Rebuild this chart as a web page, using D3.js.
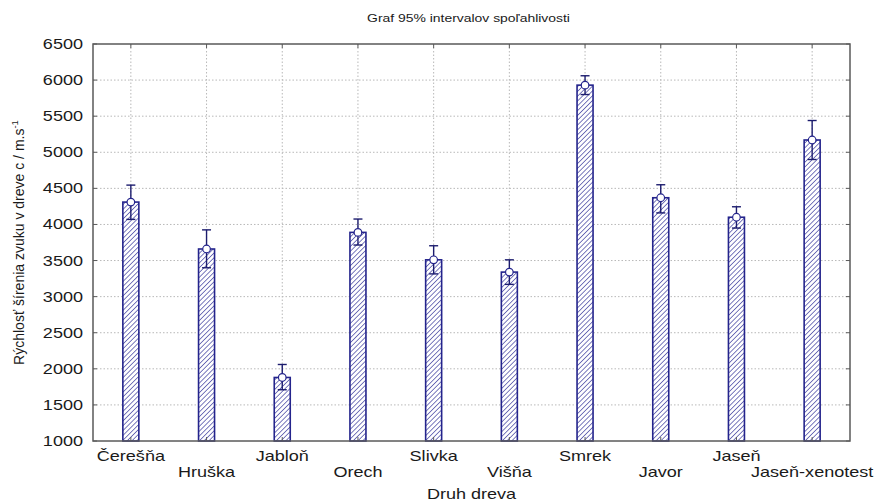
<!DOCTYPE html>
<html>
<head>
<meta charset="utf-8">
<script src="https://cdn.jsdelivr.net/npm/d3@7/dist/d3.min.js"></script>
<style>
  html, body { margin: 0; padding: 0; background: #fff; }
  svg { display: block; font-family: "Liberation Sans", Arial, sans-serif; }
</style>
</head>
<body>
<svg id="chart" width="876" height="502"></svg>
<script>
// Druh dreva a rýchlosť šírenia zvuku (priemer s 95% intervalom spoľahlivosti)
const categories = ["Čerešňa", "Hruška", "Jabloň", "Orech", "Slivka", "Višňa", "Smrek", "Javor", "Jaseň", "Jaseň-xenotest"];
const means = [4310, 3660, 1880, 3890, 3510, 3340, 5930, 4370, 4100, 5170];
const lower = [4070, 3400, 1710, 3715, 3315, 3170, 5800, 4160, 3950, 4900];
const upper = [4545, 3925, 2060, 4075, 3705, 3510, 6060, 4550, 4245, 5440];
const yTicks = [1000, 1500, 2000, 2500, 3000, 3500, 4000, 4500, 5000, 5500, 6000, 6500];

const title = "Graf 95% intervalov spoľahlivosti";
const xTitle = "Druh dreva";

const W = 876, H = 502;
const m = { left: 93, right: 850, top: 44, bottom: 441 };
const stretch = 1.29; // horizontally widened lettering

const svg = d3.select("#chart");

const x = d3.scalePoint().domain(categories).range([m.left, m.right]).padding(0.5);
const y = d3.scaleLinear().domain([1000, 6500]).range([m.bottom, m.top]);

const navy = "#24248c";
const dark = "#1c1c6e";

// hatch pattern for bars
const defs = svg.append("defs");
const pat = defs.append("pattern")
  .attr("id", "hatch")
  .attr("patternUnits", "userSpaceOnUse")
  .attr("width", 3.4).attr("height", 3.4)
  .attr("patternTransform", "rotate(45)");
pat.append("rect").attr("width", 3.4).attr("height", 3.4).attr("fill", "#fff");
pat.append("line").attr("x1", 0).attr("y1", 0).attr("x2", 0).attr("y2", 3.4)
  .attr("stroke", "#35359a").attr("stroke-width", 1.3);

// grid
const grid = svg.append("g").attr("stroke", "#b8b8b8").attr("stroke-width", 1).attr("stroke-dasharray", "1.5,2");
grid.selectAll("line.h").data(yTicks.slice(1, -1)).join("line")
  .attr("x1", m.left).attr("x2", m.right)
  .attr("y1", d => y(d)).attr("y2", d => y(d));
grid.selectAll("line.v").data(categories).join("line")
  .attr("x1", d => x(d)).attr("x2", d => x(d))
  .attr("y1", m.top).attr("y2", m.bottom);

// bars
const bw = 16;
svg.append("g").selectAll("rect").data(categories).join("rect")
  .attr("x", d => x(d) - bw / 2)
  .attr("width", bw)
  .attr("y", (d, i) => y(means[i]))
  .attr("height", (d, i) => y(1000) - y(means[i]))
  .attr("fill", "url(#hatch)")
  .attr("stroke", navy)
  .attr("stroke-width", 1.6);

// error bars
const eb = svg.append("g").attr("stroke", dark).attr("stroke-width", 1.4).attr("fill", "none");
categories.forEach((c, i) => {
  const cx = x(c);
  eb.append("line").attr("x1", cx).attr("x2", cx).attr("y1", y(lower[i])).attr("y2", y(upper[i]));
  eb.append("line").attr("x1", cx - 4.5).attr("x2", cx + 4.5).attr("y1", y(upper[i])).attr("y2", y(upper[i]));
  eb.append("line").attr("x1", cx - 4.5).attr("x2", cx + 4.5).attr("y1", y(lower[i])).attr("y2", y(lower[i]));
  eb.append("circle").attr("cx", cx).attr("cy", y(means[i])).attr("r", 3.8)
    .attr("fill", "#fff").attr("stroke", navy).attr("stroke-width", 1.2);
});

// frame and inward ticks
const frame = svg.append("g").attr("stroke", "#5a5a5a").attr("fill", "none");
frame.append("rect").attr("x", m.left).attr("y", m.top)
  .attr("width", m.right - m.left).attr("height", m.bottom - m.top).attr("stroke-width", 1.5);
const tk = 4;
yTicks.forEach(v => {
  frame.append("line").attr("x1", m.left).attr("x2", m.left + tk).attr("y1", y(v)).attr("y2", y(v));
  frame.append("line").attr("x1", m.right).attr("x2", m.right - tk).attr("y1", y(v)).attr("y2", y(v));
});
categories.forEach(c => {
  frame.append("line").attr("x1", x(c)).attr("x2", x(c)).attr("y1", m.top).attr("y2", m.top + tk);
  frame.append("line").attr("x1", x(c)).attr("x2", x(c)).attr("y1", m.bottom).attr("y2", m.bottom - tk);
});

// text helper: widened horizontal text
function label(txt, px, py, size, anchor) {
  svg.append("text")
    .attr("transform", `translate(${px},${py}) scale(${stretch},1)`)
    .attr("text-anchor", anchor)
    .attr("font-size", size)
    .attr("fill", "#1a1a1a")
    .text(txt);
}

// y tick labels
yTicks.forEach(v => label(String(v), m.left - 10, y(v) + 5, 14, "end"));

// x category labels, staggered
categories.forEach((c, i) => label(c, x(c), i % 2 === 0 ? 461 : 477, 14, "middle"));

// titles
label(title, (m.left + m.right) / 2 - 3, 22, 10.8, "middle");
label(xTitle, (m.left + m.right) / 2, 499, 14, "middle");

// y axis title (rotated), with superscript
const yt = svg.append("text")
  .attr("transform", `translate(24,${(m.top + m.bottom) / 2}) rotate(-90)`)
  .attr("text-anchor", "middle")
  .attr("font-size", 14)
  .attr("fill", "#1a1a1a");
yt.append("tspan").text("Rýchlosť šírenia zvuku v dreve c / m.s");
yt.append("tspan").attr("dy", -6).attr("font-size", 9.5).text("-1");
</script>
</body>
</html>
